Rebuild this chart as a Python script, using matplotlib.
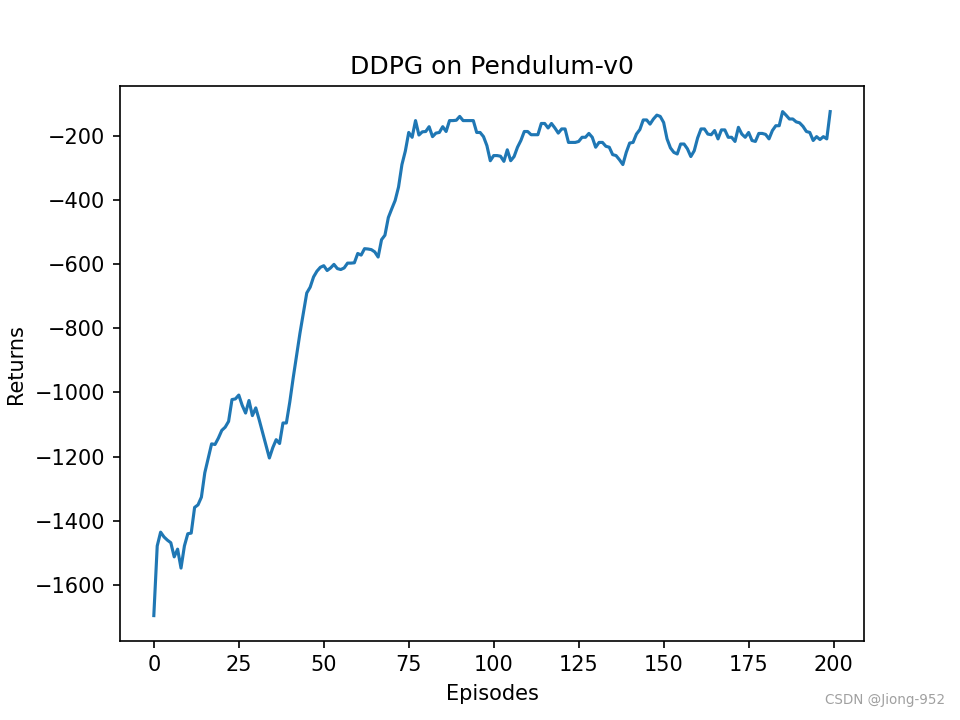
import matplotlib
matplotlib.use('Agg')
import matplotlib.pyplot as plt
import numpy as np

# returns per episode
returns = [
    -1695, -1478, -1435, -1450, -1460, -1468, -1512, -1488, -1547, -1478,
    -1440, -1438, -1358, -1350, -1326, -1250, -1205, -1160, -1162, -1142,
    -1118, -1108, -1090, -1022, -1020, -1008, -1040, -1064, -1025, -1072,
    -1048, -1085, -1125, -1165, -1204, -1172, -1147, -1159, -1095, -1095,
    -1030, -955, -885, -815, -753, -690, -672, -640, -622, -610,
    -605, -620, -612, -601, -614, -617, -612, -597, -597, -596,
    -567, -572, -552, -553, -555, -562, -578, -524, -510, -455,
    -428, -402, -360, -290, -248, -190, -205, -153, -198, -188,
    -187, -172, -203, -192, -190, -172, -187, -153, -153, -152,
    -140, -153, -153, -153, -153, -190, -190, -203, -231, -278,
    -262, -262, -264, -280, -244, -278, -265, -236, -215, -187,
    -187, -197, -197, -197, -162, -162, -176, -162, -176, -192,
    -179, -179, -221, -221, -221, -218, -205, -205, -193, -205,
    -236, -221, -221, -233, -236, -259, -262, -275, -290, -252,
    -223, -221, -195, -181, -151, -151, -164, -148, -136, -140,
    -159, -210, -238, -252, -257, -226, -226, -241, -265, -247,
    -207, -179, -179, -195, -197, -184, -210, -182, -182, -205,
    -205, -218, -174, -195, -205, -190, -215, -218, -193, -193,
    -196, -210, -184, -169, -169, -125, -136, -148, -148, -157,
    -160, -171, -187, -190, -215, -203, -212, -203, -210, -125,
]
episodes = np.arange(len(returns))

fig, ax = plt.subplots(figsize=(6.4, 4.8), dpi=150)
ax.plot(episodes, returns)
ax.set_xlabel('Episodes')
ax.set_ylabel('Returns')
ax.set_title('DDPG on Pendulum-v0')

# watermark
fig.text(0.985, 0.018, 'CSDN @Jiong-952', ha='right', va='bottom',
         fontsize=6.5, color='#a0a0a0')

plt.savefig('out.png', dpi=150)
